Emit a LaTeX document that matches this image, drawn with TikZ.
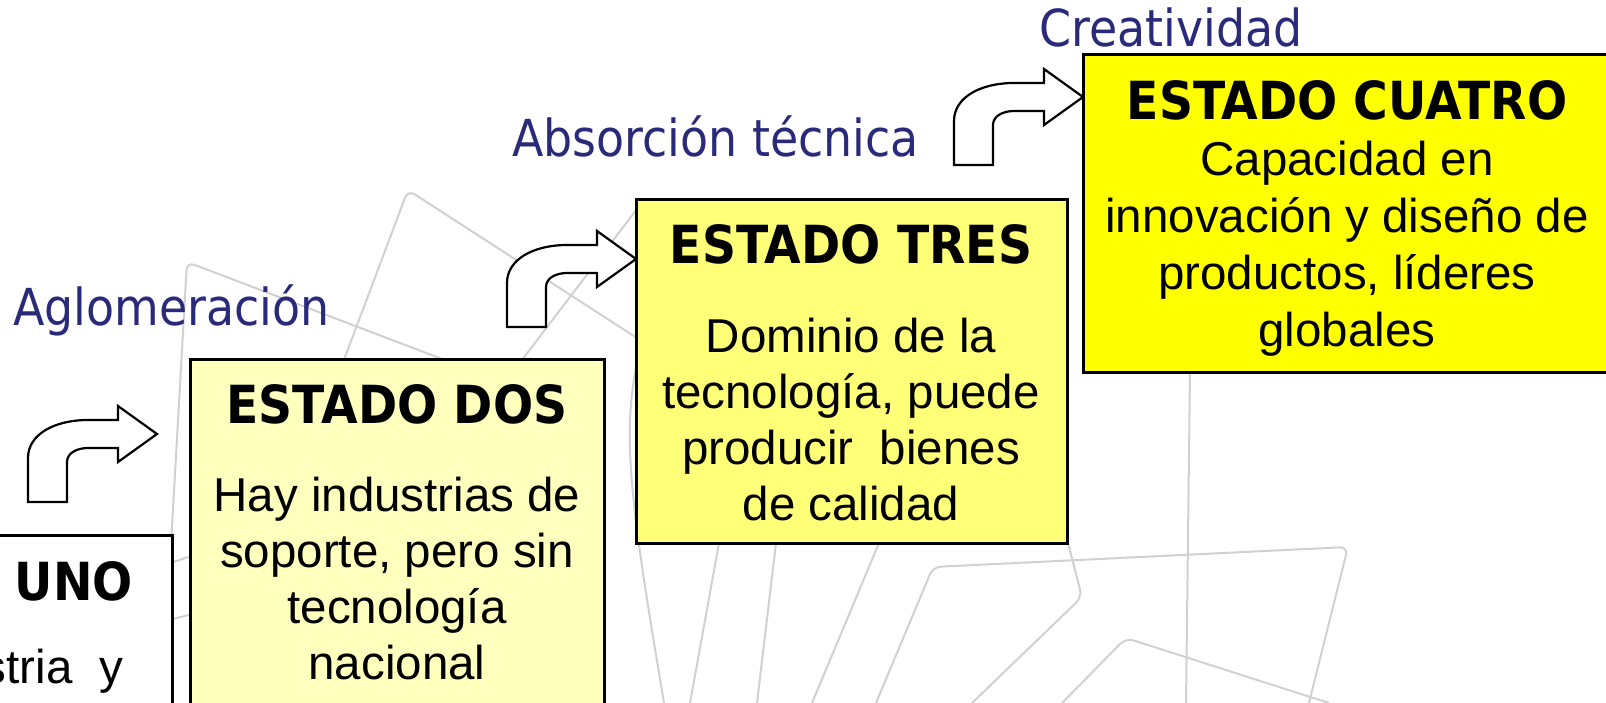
\documentclass[tikz,border=0pt]{standalone}
\usepackage{fontspec}
\setmainfont{Liberation Sans}
\newfontfamily\labelfont[FakeStretch=0.9]{DejaVu Sans}
\definecolor{labelblue}{RGB}{42,42,122}
\definecolor{paleyellow}{RGB}{255,255,190}
\definecolor{midyellow}{RGB}{255,255,120}
\definecolor{fullyellow}{RGB}{255,255,0}
\tikzset{bentup/.pic={\path[arrowshape] (-129,68) -- (-129,24) .. controls (-129,0) and (-102,-14) .. (-69,-14) -- (-39,-14) -- (-39,-28) -- (0,0) -- (-39,28) -- (-39,14) -- (-69,14) .. controls (-80,14) and (-90,19) .. (-90,28) -- (-90,68) -- cycle;}}
\begin{document}
\begin{tikzpicture}[x=1pt,y=-1pt,
  box/.style={draw=black, line width=3pt, anchor=north west, inner sep=0pt, outer sep=0pt},
  lbl/.style={text=labelblue, anchor=base west, inner sep=0pt, font=\labelfont\fontsize{51}{60}\selectfont},
  ttl/.style={anchor=base, inner sep=0pt, font=\labelfont\bfseries\fontsize{52.5}{60}\selectfont},
  body/.style={anchor=base, inner sep=0pt, font=\fontsize{47.5}{56.5}\selectfont},
  wm/.style={draw=black!18, line width=2pt, rounded corners=8pt},
  arrowshape/.style={draw=black, line width=2.2pt, fill=white, line join=miter}]
\useasboundingbox (0,0) rectangle (1606,703);
\fill[white] (0,0) rectangle (1606,703);
% watermark
\draw[wm] (162,703) -- (187,262) -- (450,362);
\draw[wm] (342,365) -- (408,190) -- (640,340);
\draw[wm] (522,360) -- (640,205);
\draw[wm] (640,350) .. controls (620,430) and (630,500) .. (664,703);
\draw[wm] (719,543) -- (690,703);
\draw[wm] (776,543) -- (757,703);
\draw[wm] (879,543) -- (812,703);
\draw[wm] (876,703) -- (933,567) -- (1348,547) -- (1309,703);
\draw[wm] (1062,703) -- (1126,638) -- (1329,703);
\draw[wm] (1068,543) -- (1082,597) -- (972,703);
\draw[wm] (1190,372) -- (1186,703);
\draw[wm] (150,570) -- (200,553);
\draw[wm] (150,625) -- (200,612);
% boxes
\node[box, fill=white, minimum width=422pt, minimum height=230pt] (uno) at (-250,535) {};
\node[box, fill=paleyellow, minimum width=414pt, minimum height=400pt] (dos) at (190,359) {};
\node[box, fill=midyellow, minimum width=431pt, minimum height=343pt] (tres) at (636,200) {};
\node[box, fill=fullyellow, minimum width=537pt, minimum height=317pt] (cuatro) at (1083,55) {};
% box texts
\node[ttl, anchor=base east] (t1) at (133,600) {UNO};
\node[body, anchor=base east] (b1) at (123,683) {stria\ \ y};
\node[ttl] (t2) at (397,423) {ESTADO DOS};
\node[body] (b2a) at (397,511) {Hay industrias de};
\node[body] (b2b) at (397,567) {soporte, pero sin};
\node[body] (b2c) at (397,623) {tecnología};
\node[body] (b2d) at (397,679) {nacional};
\node[ttl] (t3) at (851,264) {ESTADO TRES};
\node[body] (b3a) at (851,352) {Dominio de la};
\node[body] (b3b) at (851,408) {tecnología, puede};
\node[body] (b3c) at (851,464) {producir\ \ bienes};
\node[body] (b3d) at (851,520) {de calidad};
\node[ttl] (t4) at (1347,120) {ESTADO CUATRO};
\node[body] (b4a) at (1347,176) {Capacidad en};
\node[body] (b4b) at (1347,233) {innovación y diseño de};
\node[body] (b4c) at (1347,290) {productos, líderes};
\node[body] (b4d) at (1347,346) {globales};
% labels
\node[lbl] (l1) at (13,326) {Aglomeración};
\node[lbl] (l2) at (512,157) {Absorción técnica};
\node[lbl] (l3) at (1039,47) {Creatividad};
% bent arrows
\coordinate (tip1) at (157,434);
\coordinate (tip2) at (tres.west |- 0,259);
\coordinate (tip3) at (cuatro.west |- 0,97);
\pic (a1) at (tip1) {bentup};
\pic (a2) at (tip2) {bentup};
\pic (a3) at (tip3) {bentup};
\end{tikzpicture}
\end{document}
